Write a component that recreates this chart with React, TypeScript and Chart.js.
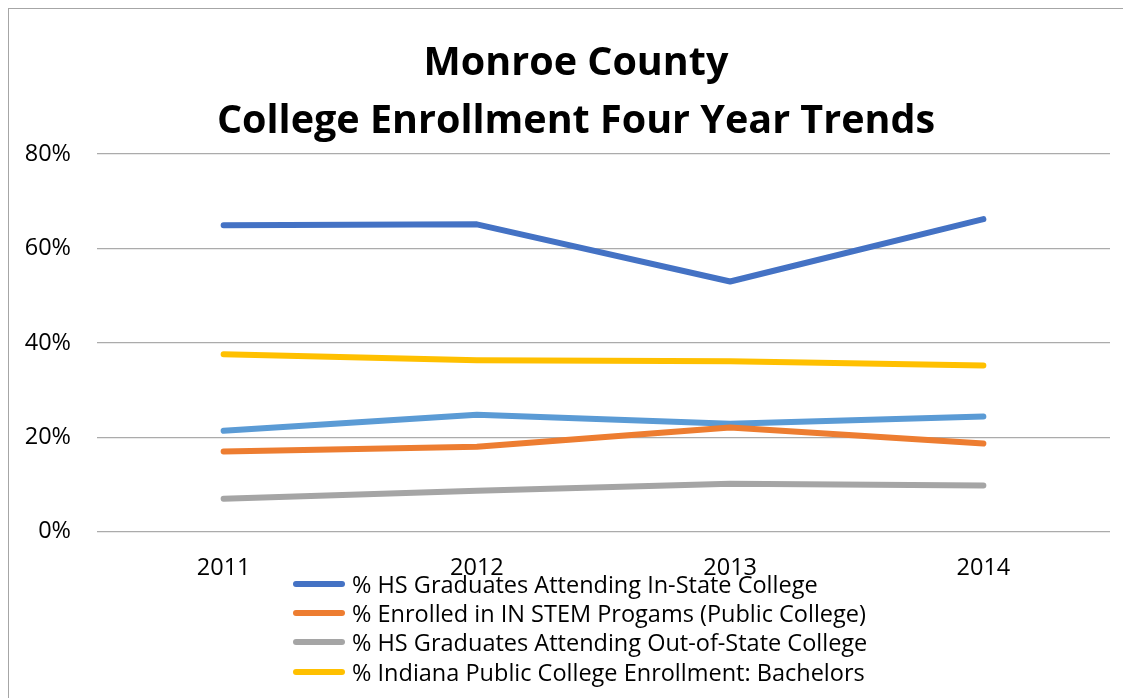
import React, { useEffect, useRef } from "react";
import { Chart, registerables } from "chart.js";

Chart.register(...registerables);

const categories = ["2011", "2012", "2013", "2014"];
const inStateValues = [64.9, 65.1, 53.0, 66.2];
const stemValues = [17.0, 18.0, 22.1, 18.7];
const outOfStateValues = [7.0, 8.7, 10.2, 9.8];
const bachelorsValues = [37.6, 36.3, 36.1, 35.2];
const fifthSeriesValues = [21.4, 24.8, 22.9, 24.4];
const yMin = 0;
const yMax = 80;
const yStep = 20;
const titleLines = ["Monroe County", "College Enrollment Four Year Trends"];

const seriesLabels = [
  "% HS Graduates Attending In-State College",
  "% Enrolled in IN STEM Progams (Public College)",
  "% HS Graduates Attending Out-of-State College",
  "% Indiana Public College Enrollment: Bachelors",
  "Series 5",
];
const seriesColors = ["#4472C4", "#ED7D31", "#A5A5A5", "#FFC000", "#5B9BD5"];
const seriesValues = [inStateValues, stemValues, outOfStateValues, bachelorsValues, fifthSeriesValues];
const legendCount = 4;

const FONT = "'Open Sans', 'Noto Sans', sans-serif";

const titleShift = {
  id: "titleShift",
  afterLayout(chart: any) {
    const t = chart.titleBlock;
    if (t) t.left += 21;
  },
};

export default function App() {
  const ref = useRef<HTMLCanvasElement>(null);

  useEffect(() => {
    if (!ref.current) return;
    const chart = new Chart(ref.current, {
      type: "line",
      data: {
        labels: categories,
        datasets: seriesLabels.map((label, i) => ({
          label,
          data: seriesValues[i],
          borderColor: seriesColors[i],
          backgroundColor: seriesColors[i],
          borderWidth: 6,
          borderCapStyle: "round" as const,
          borderJoinStyle: "round" as const,
          pointRadius: 0,
          pointHoverRadius: 0,
          tension: 0,
          fill: false,
        })),
      },
      plugins: [titleShift],
      options: {
        responsive: false,
        animation: false,
        layout: { padding: { left: 12, right: 21, top: 0, bottom: 94 } },
        plugins: {
          legend: { display: false },
          tooltip: { enabled: false },
          title: {
            display: true,
            text: titleLines,
            color: "#000000",
            font: { family: FONT, size: 39.5, weight: "bold", lineHeight: 58 / 39.5 },
            padding: { top: 26, bottom: 3 },
          },
        },
        scales: {
          x: {
            offset: true,
            grid: { display: false, drawTicks: false },
            border: { display: false },
            ticks: {
              padding: 22,
              color: "#000000",
              font: { family: FONT, size: 23.5 },
            },
          },
          y: {
            min: yMin,
            max: yMax,
            afterFit: (s: any) => {
              s.width = 76;
            },
            grid: { color: "#ababab", lineWidth: 1.3, drawTicks: false },
            border: { display: false },
            ticks: {
              stepSize: yStep,
              padding: 26,
              color: "#000000",
              font: { family: FONT, size: 23.5 },
              callback: (v: any) => `${v}%`,
            },
          },
        },
      },
    });
    return () => chart.destroy();
  }, []);

  return (
    <div
      style={{
        position: "relative",
        width: 1123,
        height: 690,
        boxSizing: "border-box",
        borderLeft: "1px solid #a6a6a6",
        borderTop: "1px solid #a6a6a6",
        overflow: "hidden",
      }}
    >
      <canvas
        ref={ref}
        width={1122}
        height={689}
        style={{ position: "absolute", left: 0, top: 0, width: 1122, height: 689 }}
      />
      <div
        style={{
          position: "absolute",
          left: 284,
          top: 560,
          fontFamily: FONT,
          fontSize: 23.5,
          color: "#000000",
        }}
      >
        {seriesLabels.slice(0, legendCount).map((label, i) => (
          <div key={label} style={{ display: "flex", alignItems: "center", height: 29.3 }}>
            <span
              style={{
                display: "inline-block",
                width: 52,
                height: 6,
                borderRadius: 3,
                background: seriesColors[i],
                marginRight: 7,
              }}
            />
            <span style={{ whiteSpace: "nowrap" }}>{label}</span>
          </div>
        ))}
      </div>
    </div>
  );
}
